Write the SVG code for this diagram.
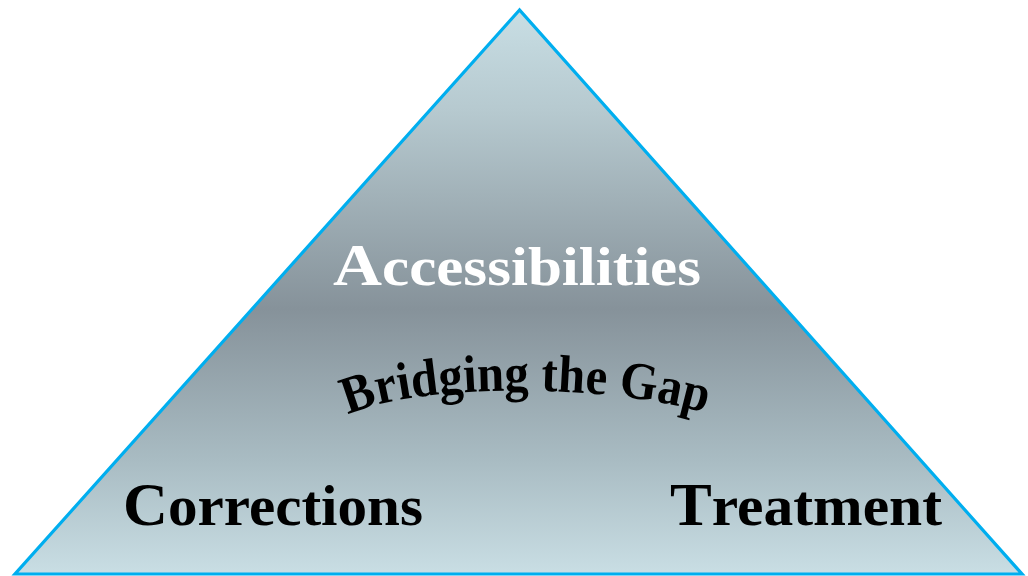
<svg xmlns="http://www.w3.org/2000/svg" width="1028" height="576" viewBox="0 0 1028 576">
  <style>
    .tri { stroke: #00AEEF; stroke-width: 3.2; stroke-linejoin: miter; }
    .lbl { font-family: "Liberation Serif", "Times New Roman", serif; font-weight: bold; }
    .arch { font-family: "Liberation Serif", "Times New Roman", serif; font-weight: bold; font-size: 53px; fill: #000; }
  </style>
  <defs>
    <linearGradient id="fillGrad" x1="0" y1="10" x2="0" y2="574" gradientUnits="userSpaceOnUse">
      <stop offset="0" stop-color="#c8dee4"/>
      <stop offset="0.18" stop-color="#b6c9cf"/>
      <stop offset="0.53" stop-color="#86929a"/>
      <stop offset="0.8" stop-color="#a9bcc3"/>
      <stop offset="1" stop-color="#c9dee4"/>
    </linearGradient>
    <path id="archPath" d="M 348 415 C 412 384, 600 382, 706 413"/>
  </defs>
  <g id="triangle">
    <polygon class="tri" points="519.5,10 15,574 1022,574" fill="url(#fillGrad)"/>
  </g>
  <g id="connectors"/>
  <g id="accessibilities">
    <text class="lbl" x="333" y="285" font-size="54" fill="#ffffff" textLength="368" lengthAdjust="spacingAndGlyphs"><tspan font-size="60">A</tspan>ccessibilities</text>
  </g>
  <g id="bridging">
    <text class="arch"><textPath href="#archPath" startOffset="0" textLength="362" lengthAdjust="spacingAndGlyphs">Bridging the Gap</textPath></text>
  </g>
  <g id="corrections">
    <text class="lbl" x="123" y="525" font-size="58" fill="#000000" textLength="300" lengthAdjust="spacingAndGlyphs"><tspan font-size="61">C</tspan>orrections</text>
  </g>
  <g id="treatment">
    <text class="lbl" x="670" y="525" font-size="58" fill="#000000" textLength="272" lengthAdjust="spacingAndGlyphs"><tspan font-size="61">T</tspan>reatment</text>
  </g>
</svg>
